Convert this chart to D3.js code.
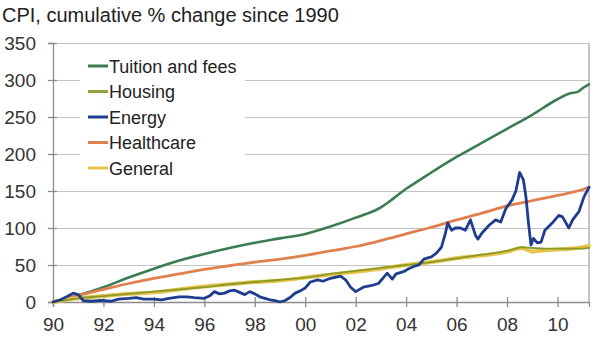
<!DOCTYPE html>
<html>
<head>
<meta charset="utf-8">
<script src="https://cdn.jsdelivr.net/npm/d3@7/dist/d3.min.js"></script>
<style>
  html, body { margin: 0; padding: 0; background: #fff; }
  svg { display: block; font-family: "Liberation Sans", Arial, sans-serif; }
</style>
</head>
<body>
<svg id="chart" width="600" height="340"></svg>
<script>
// Cumulative % change in CPI components since 1990 (year as decimal, value in %)
const tuitionYears = [1990, 1991, 1992, 1993, 1994, 1995, 1996, 1997, 1998, 1999, 2000, 2001, 2002, 2003, 2003.5, 2004, 2004.5, 2005, 2006, 2007, 2008, 2009, 2010, 2010.5, 2010.8, 2011, 2011.25];
const tuitionValues = [0, 9, 20, 33, 45, 56, 65, 73, 80, 86, 92, 102, 114, 128, 140, 153, 164, 175, 196, 215, 234, 253, 274, 282, 284, 289, 294];

const housingYears = [1990, 1991, 1992, 1993, 1994, 1995, 1996, 1997, 1998, 1999, 2000, 2001, 2002, 2003, 2004, 2005, 2006, 2007, 2008, 2008.6, 2009, 2009.5, 2010, 2010.5, 2011, 2011.25];
const housingValues = [0, 5, 8, 11, 14, 17, 20, 24, 27, 30, 33, 38, 42, 46, 50, 54, 59, 64, 69, 74, 73, 72, 72, 72, 72, 73];

const energyYears = [1990, 1990.3, 1990.6, 1990.8, 1991, 1991.2, 1991.5, 1991.8, 1992, 1992.3, 1992.6, 1993, 1993.3, 1993.6, 1994, 1994.3, 1994.6, 1994.8, 1995, 1995.3, 1995.6, 1996, 1996.2, 1996.4, 1996.6, 1996.8, 1997, 1997.2, 1997.4, 1997.6, 1997.8, 1998, 1998.2, 1998.4, 1998.6, 1998.8, 1999, 1999.2, 1999.4, 1999.6, 1999.8, 2000, 2000.2, 2000.5, 2000.7, 2001, 2001.4, 2001.6, 2001.8, 2002, 2002.3, 2002.6, 2002.9, 2003.1, 2003.25, 2003.45, 2003.6, 2003.9, 2004.1, 2004.3, 2004.5, 2004.7, 2005, 2005.2, 2005.4, 2005.55, 2005.65, 2005.8, 2005.95, 2006.15, 2006.35, 2006.55, 2006.75, 2006.85, 2007, 2007.3, 2007.55, 2007.75, 2007.95, 2008.2, 2008.35, 2008.5, 2008.65, 2008.75, 2008.85, 2008.95, 2009.05, 2009.2, 2009.35, 2009.5, 2009.8, 2010.05, 2010.2, 2010.45, 2010.6, 2010.85, 2011.05, 2011.25];
const energyValues = [0, 3, 8, 12, 10, 2, 1, 2, 2, 1, 4, 5, 6, 4, 4, 3, 5, 6, 7, 7, 6, 5, 8, 14, 11, 12, 15, 16, 13, 10, 14, 11, 7, 5, 3, 2, 0, 2, 6, 12, 15, 19, 27, 30, 28, 32, 35, 30, 20, 14, 20, 22, 25, 33, 39, 31, 38, 41, 45, 48, 50, 58, 61, 66, 74, 92, 107, 97, 100, 100, 97, 111, 90, 85, 93, 104, 111, 108, 126, 138, 150, 175, 165, 142, 107, 77, 86, 80, 81, 97, 107, 117, 115, 100, 111, 122, 142, 155];

const healthYears = [1990, 1991, 1992, 1993, 1994, 1995, 1996, 1997, 1998, 1999, 2000, 2001, 2002, 2003, 2004, 2005, 2006, 2007, 2008, 2009, 2010, 2011, 2011.25];
const healthValues = [0, 9, 17, 25, 32, 38, 44, 49, 54, 58, 63, 69, 75, 83, 92, 101, 111, 120, 130, 137, 144, 152, 155];

const generalYears = [1990, 1991, 1992, 1993, 1994, 1995, 1996, 1997, 1998, 1999, 2000, 2001, 2002, 2003, 2004, 2005, 2006, 2007, 2008, 2008.6, 2009, 2009.5, 2010, 2010.5, 2011, 2011.25];
const generalValues = [0, 5, 8, 11, 13, 17, 21, 24, 27, 29, 33, 37, 41, 45, 50, 54, 59, 63, 68, 73, 68, 70, 71, 72, 74, 76];

const seriesNames = ["Tuition and fees", "Housing", "Energy", "Healthcare", "General"];
const yTickValues = [0, 50, 100, 150, 200, 250, 300, 350];
const xTickValues = [1990, 1992, 1994, 1996, 1998, 2000, 2002, 2004, 2006, 2008, 2010];
const titleText = "CPI, cumulative % change since 1990";

const zip = (xs, vs) => xs.map((t, i) => ({ t, v: vs[i] }));
const series = [
  { name: "Tuition and fees", data: zip(tuitionYears, tuitionValues), color: "#3a7d50", width: 2.6, curve: d3.curveMonotoneX },
  { name: "Healthcare", data: zip(healthYears, healthValues), color: "#e0804f", width: 2.8, curve: d3.curveMonotoneX },
  { name: "General", data: zip(generalYears, generalValues), color: "#e8c54a", width: 4, curve: d3.curveMonotoneX },
  { name: "Housing", data: zip(housingYears, housingValues), color: "#8a9a2a", width: 1.8, curve: d3.curveMonotoneX },
  { name: "Energy", data: zip(energyYears, energyValues), color: "#1f3d8f", width: 2.8, curve: d3.curveLinear }
];
const legendColors = {
  "Tuition and fees": "#3a7d50",
  "Housing": "#8fa23c",
  "Energy": "#1f3d8f",
  "Healthcare": "#e0804f",
  "General": "#e8c54a"
};

const svg = d3.select("#chart");
const margin = { left: 53, right: 11, top: 43, bottom: 38 };
const W = 600, H = 340;

const x = d3.scaleLinear().domain([1990, d3.max(energyYears)]).range([margin.left, W - margin.right]);
const y = d3.scaleLinear().domain([0, 350]).range([H - margin.bottom, margin.top]);

// Title
svg.append("text")
  .attr("x", 2).attr("y", 22)
  .attr("font-size", 20).attr("fill", "#222")
  .text(titleText);

// Horizontal gridlines
svg.append("g")
  .attr("transform", `translate(${margin.left},0)`)
  .call(d3.axisLeft(y).tickValues(yTickValues).tickSize(-(W - margin.right - margin.left)).tickFormat(""))
  .call(g => g.select(".domain").remove())
  .call(g => g.selectAll("line").attr("stroke", "#c4c4c4").attr("stroke-width", 1.2));

// Right border
svg.append("line")
  .attr("x1", W - margin.right).attr("x2", W - margin.right)
  .attr("y1", margin.top).attr("y2", H - margin.bottom)
  .attr("stroke", "#a8a8a8").attr("stroke-width", 1.3);

// Legend background blanks the gridlines behind it
svg.append("rect")
  .attr("x", 80).attr("y", 52).attr("width", 165).attr("height", 130)
  .attr("fill", "#fff");

// Y axis
svg.append("g")
  .attr("transform", `translate(${margin.left},0)`)
  .call(d3.axisLeft(y).tickValues(yTickValues).tickSize(5).tickPadding(12))
  .call(g => g.select(".domain").attr("stroke", "#8c8c8c").attr("stroke-width", 1.3))
  .call(g => g.selectAll(".tick line").attr("x1", 4).attr("x2", -5).attr("stroke", "#8c8c8c").attr("stroke-width", 1.3))
  .call(g => g.selectAll(".tick text").attr("font-size", 19).attr("fill", "#333")
    .attr("font-family", "'Liberation Sans', Arial, sans-serif"));

// X axis
svg.append("g")
  .attr("transform", `translate(0,${H - margin.bottom})`)
  .call(d3.axisBottom(x).tickValues(xTickValues).tickSize(5).tickPadding(11)
    .tickFormat(d => String(d % 100).padStart(2, "0")))
  .call(g => g.select(".domain").attr("stroke", "#8c8c8c").attr("stroke-width", 1.3))
  .call(g => g.selectAll(".tick line").attr("y1", -5).attr("y2", 5).attr("stroke", "#8c8c8c").attr("stroke-width", 1.3))
  .call(g => g.selectAll(".tick text").attr("font-size", 19).attr("fill", "#333")
    .attr("font-family", "'Liberation Sans', Arial, sans-serif"));

// Series lines
const lineGroup = svg.append("g");
series.forEach(s => {
  const line = d3.line().x(d => x(d.t)).y(d => y(d.v)).curve(s.curve);
  lineGroup.append("path")
    .datum(s.data)
    .attr("fill", "none")
    .attr("stroke", s.color)
    .attr("stroke-width", s.width)
    .attr("stroke-linejoin", "round")
    .attr("stroke-linecap", "round")
    .attr("d", line);
});

// Legend
const legend = svg.append("g").attr("transform", "translate(88,66)");
seriesNames.forEach((name, i) => {
  const row = legend.append("g").attr("transform", `translate(0,${i * 25.5})`);
  row.append("line")
    .attr("x1", 0).attr("x2", 20).attr("y1", 0).attr("y2", 0)
    .attr("stroke", legendColors[name]).attr("stroke-width", 3);
  row.append("text")
    .attr("x", 21).attr("y", 6.5)
    .attr("font-size", 18).attr("fill", "#222")
    .text(name);
});
</script>
</body>
</html>
